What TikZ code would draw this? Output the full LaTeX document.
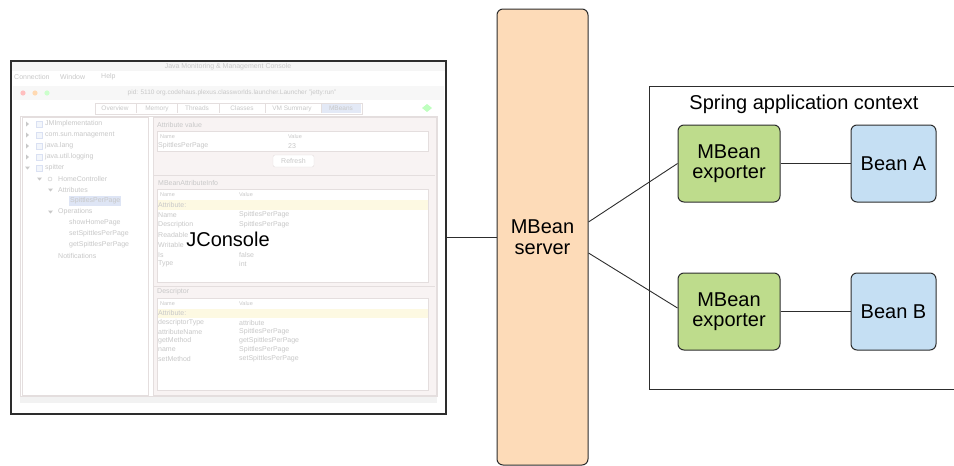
\documentclass[tikz,border=0pt]{standalone}
\usepackage{fontspec}
\setmainfont{Liberation Sans}
\definecolor{peach}{RGB}{253,219,184}
\definecolor{exgreen}{RGB}{190,220,140}
\definecolor{beanblue}{RGB}{197,223,243}
\definecolor{edge}{RGB}{45,45,45}
\definecolor{sstext}{RGB}{200,200,200}
\definecolor{ssline}{RGB}{228,222,222}
\definecolor{ssband}{RGB}{248,243,243}
\definecolor{ssyellow}{RGB}{253,249,226}
\definecolor{sssel}{RGB}{208,218,240}
\begin{document}
\begin{tikzpicture}[x=1pt,y=-1pt,
  ss/.style={inner sep=0pt, anchor=west, text=sstext, font=\fontsize{7}{7.5}\selectfont},
  sss/.style={ss, font=\fontsize{5.5}{6}\selectfont},
  ssc/.style={ss, anchor=center},
  lbl/.style={font=\fontsize{20}{20.5}\selectfont, align=center, inner sep=0pt},
  box/.style={draw=edge, line width=1pt, rounded corners=6pt, lbl},
  conn/.style={draw=edge, line width=0.9pt},
  ssbox/.style={draw=ssline, line width=0.6pt, fill=white}]

\useasboundingbox (0,0) rectangle (954,466);

% ---------- faded JConsole screenshot ----------
\fill[black!4] (12,62) rectangle (445,71);
\node[ssc] (sst) at (228,66.5) {Java Monitoring \& Management Console};
\node[ss] (m1) at (14,77) {Connection};
\node[ss] (m2) at (60,77) {Window};
\node[ss] (m3) at (101,77) {Help};
\fill[black!3] (13,86) rectangle (444,100);
\fill[red!25] (23,93) circle (2.6pt);
\fill[orange!30] (35,93) circle (2.6pt);
\fill[green!20] (47,93) circle (2.6pt);
\node[ssc, font=\fontsize{6.5}{7}\selectfont] (wt) at (232,93) {pid: 5110 org.codehaus.plexus.classworlds.launcher.Launcher "jetty:run"};
% tabs
\draw[ssline, fill=white] (95,103) rectangle (362,114);
\fill[sssel!60] (322,104) rectangle (361,113);
\foreach \x/\t [count=\i] in {115/Overview,157/Memory,197/Threads,242/Classes,292/VM Summary,341/MBeans}
  \node[ssc, font=\fontsize{6.5}{7}\selectfont] (tab\i) at (\x,108.5) {\t};
\foreach \x in {136,177,219,265,321}
  \draw[ssline] (\x,104) -- (\x,113);
\fill[green!25] (422,108) -- (427,104) -- (432,108) -- (427,112) -- cycle;
% main panels
\draw[ssline] (20,116) rectangle (437,396);
\fill[black!5] (20,397) rectangle (437,403);
\draw[ssline, fill=white] (22,117) rectangle (148,395);
\draw[ssline, fill=ssband] (153,117) rectangle (436,395);
% tree
\foreach \n/\t in {0/JMImplementation,1/com.sun.management,2/java.lang,3/java.util.logging,4/spitter}{
  \draw[sssel!80, fill=sssel!25] (36,{124+11*\n-3}) rectangle (42,{124+11*\n+3});
  \node[ss] (tr\n) at (45,{124+11*\n}) {\t};
}
\foreach \n in {0,1,2,3}
  \fill[sstext] (26,{124+11*\n-2.5}) -- (29,{124+11*\n}) -- (26,{124+11*\n+2.5}) -- cycle;
\fill[sstext] (25,166.5) -- (30,166.5) -- (27.5,169.5) -- cycle;
\fill[sstext] (37,177.5) -- (42,177.5) -- (39.5,180.5) -- cycle;
\draw[sstext] (50,179) circle (2pt);
\node[ss] (tr5) at (58,179) {HomeController};
\fill[sstext] (48,188.5) -- (53,188.5) -- (50.5,191.5) -- cycle;
\node[ss] (tr6) at (58,190) {Attributes};
\fill[sssel!70] (69,196) rectangle (121,206);
\node[ss] (tr7) at (70,201) {SpittlesPerPage};
\fill[sstext] (48,210.5) -- (53,210.5) -- (50.5,213.5) -- cycle;
\node[ss] (tr8) at (58,212) {Operations};
\node[ss] (tr9) at (69,223) {showHomePage};
\node[ss] (tr10) at (69,234) {setSpittlesPerPage};
\node[ss] (tr11) at (69,245) {getSpittlesPerPage};
\node[ss] (tr12) at (58,256) {Notifications};
% attribute value group
\node[ss] (g1) at (157,125) {Attribute value};
\draw[ssbox] (157,131) rectangle (428,151);
\node[sss] (g1h1) at (160,137) {Name};
\node[sss] (g1h2) at (288,137) {Value};
\node[ss] (g1r1) at (158,146) {SpittlesPerPage};
\node[ss] (g1r2) at (288,146) {23};
\draw[ssline, fill=white, rounded corners=2pt] (273,155) rectangle (314,167);
\node[ssc] (refresh) at (293.5,161) {Refresh};
\draw[ssline] (154,175) -- (435,175);
% MBeanAttributeInfo group
\node[ss] (g2) at (158,183) {MBeanAttributeInfo};
\draw[ssbox] (157,189) rectangle (428,282);
\node[sss] (g2h1) at (160,195) {Name};
\node[sss] (g2h2) at (239,195) {Value};
\fill[ssyellow] (157.5,200) rectangle (427.5,210);
\node[ss] (g2y) at (158,205) {Attribute:};
\foreach \y/\a/\b [count=\i] in {215/Name/SpittlesPerPage,225/Description/SpittlesPerPage,255/Is/false,264/Type/int}{
  \node[ss] (g2a\i) at (158,\y) {\a};
  \node[ss] (g2b\i) at (239,\y) {\b};
}
\node[ss] (g2r) at (158,235) {Readable};
\node[ss] (g2w) at (158,245) {Writable};
\draw[ssline] (154,286) -- (435,286);
% Descriptor group
\node[ss] (g3) at (157,292) {Descriptor};
\draw[ssbox] (157,298) rectangle (428,390);
\node[sss] (g3h1) at (160,304) {Name};
\node[sss] (g3h2) at (239,304) {Value};
\fill[ssyellow] (157.5,308.5) rectangle (427.5,318);
\node[ss] (g3y) at (158,313) {Attribute:};
\foreach \y/\a/\b [count=\i] in {323/descriptorType/attribute,332/attributeName/SpittlesPerPage,341/getMethod/getSpittlesPerPage,350/name/SpittlesPerPage,359/setMethod/setSpittlesPerPage}{
  \node[ss] (g3a\i) at (158,\y) {\a};
  \node[ss] (g3b\i) at (239,\y) {\b};
}

% ---------- diagram ----------
\node[draw=edge, line width=1.3pt, minimum width=435pt, minimum height=353pt, inner sep=0pt] (jconsole) at (228.5,237.5) {};
\node[lbl] (jlabel) at (228,239) {JConsole};

\node[box, fill=peach, minimum width=91pt, minimum height=456pt] (server) at (542.5,237) {MBean\\server};

\draw[edge, line width=1pt] (956,86) -- (649,86) -- (649,389) -- (956,389);
\node[lbl] (ctx) at (804,104) {Spring application context};

\node[box, fill=exgreen, minimum width=102pt, minimum height=77pt] (exp1) at (729,163.5) {MBean\\exporter};
\node[box, fill=exgreen, minimum width=102pt, minimum height=77pt] (exp2) at (729,311.5) {MBean\\exporter};
\node[box, fill=beanblue, minimum width=85pt, minimum height=77pt] (beanA) at (893.5,163.5) {Bean A};
\node[box, fill=beanblue, minimum width=85pt, minimum height=77pt] (beanB) at (893.5,311.5) {Bean B};

\draw[conn] (jconsole.east) -- (jconsole.east -| server.west);
\draw[conn] ([yshift=15pt]server.east) -- (exp1.west);
\draw[conn] ([yshift=-16pt]server.east) -- ([yshift=3.5pt]exp2.west);
\draw[conn] (exp1.east) -- (beanA.west);
\draw[conn] (exp2.east) -- (beanB.west);
\end{tikzpicture}
\end{document}
